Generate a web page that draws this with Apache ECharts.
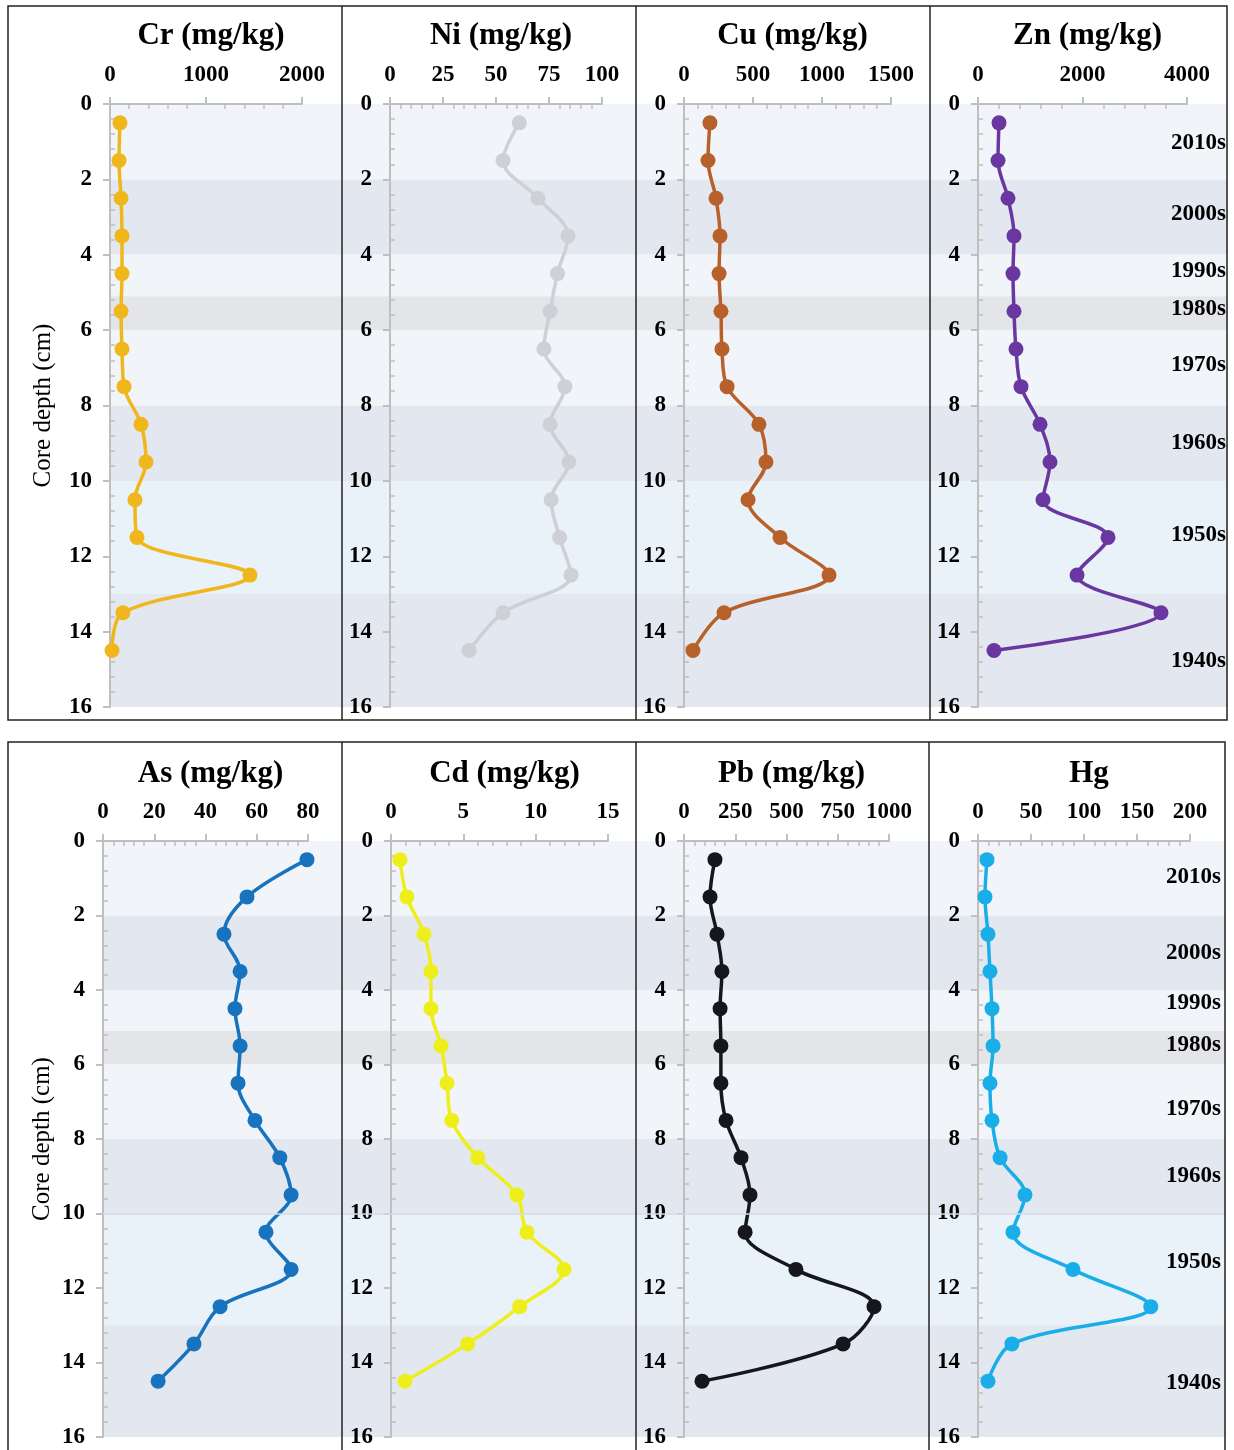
<!DOCTYPE html>
<html><head><meta charset="utf-8">
<script src="https://cdn.jsdelivr.net/npm/echarts@6/dist/echarts.min.js"></script>
<style>html,body{margin:0;padding:0;background:#fff}#c{width:1234px;height:1450px}</style>
</head><body><div id="c"></div><script>
// ---- data ----
const depths = [0.5,1.5,2.5,3.5,4.5,5.5,6.5,7.5,8.5,9.5,10.5,11.5,12.5,13.5,14.5];
const crValues = [104,94,115,125,125,115,125,146,323,375,260,281,1458,135,21];
const niValues = [61,53.3,69.8,84,79,75.5,72.6,82.5,75.5,84.4,76,80,85.4,53.3,37.3];
const cuValues = [188,174,232,261,254,268,275,312,543,594,464,696,1051,290,65];
const znValues = [402,383,574,689,670,689,727,823,1187,1378,1244,2488,1895,3502,306];
const asValues = [79.6,56.2,47.2,53.5,51.5,53.5,52.7,59.3,69,73.4,63.6,73.4,45.7,35.5,21.5];
const cdValues = [0.62,1.1,2.28,2.76,2.76,3.46,3.87,4.2,6.0,8.7,9.4,11.96,8.9,5.3,0.97];
const pbValues = [151,127,161,185,176,180,180,205,278,322,298,546,927,776,88];
const hgValues = [8.5,6.6,9.4,11.3,13.2,14.2,11.3,13.2,20.8,44.3,33,89.6,163,32,9.4];

const panelTitles = ['Cr (mg/kg)','Ni (mg/kg)','Cu (mg/kg)','Zn (mg/kg)','As (mg/kg)','Cd (mg/kg)','Pb (mg/kg)','Hg'];
const axisMax = [2000,100,1500,4000,80,15,1000,200];
const axisStep = [1000,25,500,2000,20,5,250,50];
const depthMax = 16, depthStep = 2;
const yAxisName = 'Core depth (cm)';

const decadeLabels = ['2010s','2000s','1990s','1980s','1970s','1960s','1950s','1940s'];
const decadeDepthsTop = [1.03,2.92,4.43,5.44,6.92,9.0,11.43,14.77];
const decadeDepthsBottom = [0.97,3.0,4.35,5.48,7.2,9.0,11.3,14.55];

const bandStarts = [0,2,4,5.1,6,8,10,13];
const bandEnds   = [2,4,5.1,6,8,10,13,16];

// ---- styles / layout ----
const seriesValues = [crValues,niValues,cuValues,znValues,asValues,cdValues,pbValues,hgValues];
const colors = ['#EFB71B','#CDD0D5','#B8602A','#6A37A0','#1873BE','#EEEE1A','#15171C','#1AAEE8'];
const bandColors = ['#F1F5FA','#E3E7EF','#F1F5FA','#E3E5E9','#F1F5FA','#E3E7EF','#E9F1F9','#E3E7EF'];
const gridLeft  = [110,390,684,978,103,391,684,978];
const gridWidth = [192,212,207,209,205,217,205,212];
const rowTop = [104,841], rowHeight = [603,596];
const rowTitleTop = [15,753];
const bgLeft = [110,103], bgRight = [1228,1226];
const FONT = '"Liberation Serif", "Times New Roman", serif';
const AX = '#BFBFBF';

const grids = [], xAxes = [], yAxes = [], series = [], titles = [];
const plain = v => String(v);

function addAxes(gi, xmax, xstep, showName, row) {
  xAxes.push({gridIndex: gi, type:'value', position:'top', min:0, max:xmax, interval:xstep,
    axisLine:{show:true, onZero:false, lineStyle:{color:AX, width:2}},
    axisTick:{show:true, length:7, lineStyle:{color:AX, width:2}},
    axisLabel:{show:true, color:'#000', fontFamily:FONT, fontWeight:'bold', fontSize:23, margin:17, formatter:plain},
    splitLine:{show:false}, minorTick:{show:false}, z:1});
  yAxes.push({gridIndex: gi, type:'value', inverse:true, min:0, max:depthMax, interval:depthStep,
    name: showName ? yAxisName : '', nameLocation:'middle', nameRotate:90, nameGap: row===0?54:48,
    nameTextStyle:{color:'#000', fontFamily:FONT, fontSize:25},
    axisLine:{show:true, onZero:false, lineStyle:{color:AX, width:2}},
    axisTick:{show:true, length:7, lineStyle:{color:AX, width:2}},
    axisLabel:{show:true, color:'#000', fontFamily:FONT, fontWeight:'bold', fontSize:23, margin:18, formatter:plain},
    splitLine:{show:false}, minorTick:{show:false}, z:1});
  xAxes.push({gridIndex: gi, type:'value', position:'top', min:0, max:xmax, interval:xstep,
    axisLine:{show:false, onZero:false}, axisTick:{show:false, inside:true}, axisLabel:{show:false},
    splitLine:{show:false}, minorTick:{show:true, splitNumber:5, length:5, lineStyle:{color:AX, width:1.5}}, z:1});
  yAxes.push({gridIndex: gi, type:'value', position:'left', inverse:true, min:0, max:depthMax, interval:depthStep,
    axisLine:{show:false, onZero:false}, axisTick:{show:false, inside:true}, axisLabel:{show:false},
    splitLine:{show:false}, minorTick:{show:true, splitNumber:5, length:5, lineStyle:{color:AX, width:1.5}}, z:1});
}

// background grids (bands + decade labels)
for (let r = 0; r < 2; r++) {
  const gi = grids.length;
  grids.push({left:bgLeft[r], top:rowTop[r], width:bgRight[r]-bgLeft[r], height:rowHeight[r]});
  const xi = xAxes.length, yi = yAxes.length;
  xAxes.push({gridIndex:gi, type:'value', min:0, max:1, show:false});
  yAxes.push({gridIndex:gi, type:'value', inverse:true, min:0, max:depthMax, show:false});
  series.push({
    type:'line', xAxisIndex:xi, yAxisIndex:yi, z:-5, silent:true, data:[],
    markArea:{silent:true, data: bandStarts.map((s,i)=>[{yAxis:s, itemStyle:{color:bandColors[i]}},{yAxis:bandEnds[i]}])},
    markLine: r===1 ? {silent:true, symbol:'none', label:{show:false},
      lineStyle:{color:'#CCDAE6', width:1.5, type:'solid'}, data:[{yAxis:10}]} : undefined
  });
  const dd = r === 0 ? decadeDepthsTop : decadeDepthsBottom;
  series.push({
    type:'scatter', xAxisIndex:xi, yAxisIndex:yi, z:6, silent:true,
    symbolSize:0.1, itemStyle:{color:'#000', opacity:1},
    data: decadeLabels.map((n,i)=>({name:n, value:[1, dd[i]]})),
    label:{show:true, position:'left', distance: r===0?2:5, formatter:p=>p.name, opacity:1,
      color:'#000', fontFamily:FONT, fontWeight:'bold', fontSize:23, textBorderWidth:0},
    labelLayout:{hideOverlap:false}
  });
}

for (let p = 0; p < 8; p++) {
  const row = p < 4 ? 0 : 1;
  const gi = grids.length;
  grids.push({left:gridLeft[p], top:rowTop[row], width:gridWidth[p], height:rowHeight[row]});
  const xi = xAxes.length, yi = yAxes.length;
  addAxes(gi, axisMax[p], axisStep[p], p % 4 === 0, row);
  series.push({
    type:'line', xAxisIndex:xi, yAxisIndex:yi, z:3,
    smooth:0.35, symbol:'circle', symbolSize:15, showSymbol:true,
    lineStyle:{color:colors[p], width:3.5},
    itemStyle:{color:colors[p]},
    data: seriesValues[p].map((v,i)=>[v, depths[i]])
  });
  titles.push({text:panelTitles[p], left:gridLeft[p] + gridWidth[p]/2, top:rowTitleTop[row], textAlign:'center',
    textStyle:{color:'#000', fontFamily:FONT, fontWeight:'bold', fontSize:31}});
}

// panel frames
const frameStyle = {stroke:'#222', lineWidth:1.5, fill:'none'};
const graphics = [
  {type:'rect', shape:{x:8, y:6, width:1219, height:714}, style:frameStyle, z:100, silent:true},
  {type:'rect', shape:{x:8, y:742, width:1217, height:712}, style:frameStyle, z:100, silent:true}
];
[342,636,930].forEach(x=>graphics.push({type:'line', shape:{x1:x,y1:6,x2:x,y2:720}, style:{stroke:'#222', lineWidth:1.5}, z:100, silent:true}));
[342,636,929].forEach(x=>graphics.push({type:'line', shape:{x1:x,y1:742,x2:x,y2:1454}, style:{stroke:'#222', lineWidth:1.5}, z:100, silent:true}));

const chart = echarts.init(document.getElementById('c'), null, {renderer:'canvas'});
chart.setOption({
  animation:false, backgroundColor:'#fff',
  title: titles, grid: grids, xAxis: xAxes, yAxis: yAxes, series: series, graphic: graphics
});
</script></body></html>
